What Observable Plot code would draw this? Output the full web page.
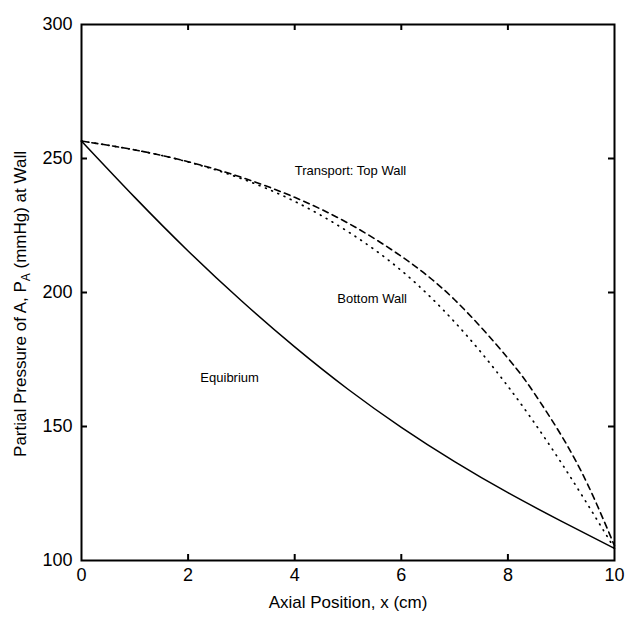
<!DOCTYPE html>
<html>
<head>
<meta charset="utf-8">
<script src="https://cdn.jsdelivr.net/npm/d3@7"></script>
<script src="https://cdn.jsdelivr.net/npm/@observablehq/plot@0.6"></script>
<style>
  html, body { margin: 0; padding: 0; background: #fff; }
  #chart { width: 626px; height: 617px; }
</style>
</head>
<body>
<div id="chart"></div>
<script>
// Axial position (cm)
const xPos = [0, 1, 2, 3, 4, 5, 6, 7, 8, 9, 10];
// Partial pressure of A at wall (mmHg)
const equilibrium = [256.5, 235.5, 215.5, 196.9, 179.7, 163.9, 149.7, 136.9, 125.3, 114.7, 104.5];
const topWallX    = [0, 1, 2, 3, 4, 5, 6, 7, 8, 8.5, 9, 9.5, 10];
const topWall     = [256.5, 253.2, 248.8, 243.0, 235.5, 225.9, 213.5, 197.3, 175.5, 162.25, 146.75, 128.25, 105.5];
const bottomWall  = [256.5, 253.2, 248.7, 242.5, 234.0, 222.7, 208.2, 189.0, 165.0, 136.5, 104.5];

// Tick values
const xTicks = [0, 2, 4, 6, 8, 10];
const yTicks = [100, 150, 200, 250, 300];
const xInnerTicks = [2, 4, 6, 8];
const yInnerTicks = [150, 200, 250];

// Curve annotations
const annLabels = ["Transport: Top Wall", "Bottom Wall", "Equibrium"];
const annX = [4.0, 4.8, 2.23];
const annY = [245.5, 197.8, 168.3];

const xLabel = "Axial Position, x (cm)";

const eqData = xPos.map((x, i) => ({x, y: equilibrium[i]}));
const topData = topWallX.map((x, i) => ({x, y: topWall[i]}));
const botData = xPos.map((x, i) => ({x, y: bottomWall[i]}));
const annData = annLabels.map((t, i) => ({t, x: annX[i], y: annY[i]}));

const W = 626, H = 617, ML = 81, MR = 12, MT = 24, MB = 57;
const fw = W - ML - MR, fh = H - MT - MB, tl = 6;

const chart = Plot.plot({
  width: W,
  height: H,
  marginLeft: ML,
  marginRight: MR,
  marginTop: MT,
  marginBottom: MB,
  style: {fontFamily: "'Liberation Sans', Arial, sans-serif", color: "#000", background: "#fff"},
  x: {domain: [0, 10]},
  y: {domain: [100, 300]},
  marks: [
    Plot.line(eqData, {x: "x", y: "y", curve: "natural", stroke: "#000", strokeWidth: 1.5}),
    Plot.line(topData, {x: "x", y: "y", curve: "natural", stroke: "#000", strokeWidth: 1.6, strokeDasharray: "6,4.5"}),
    Plot.line(botData, {x: "x", y: "y", curve: "natural", stroke: "#000", strokeWidth: 1.7, strokeDasharray: "0.8,6", strokeLinecap: "round"}),
    Plot.tickX(xInnerTicks, {x: d => d, insetTop: fh - tl, stroke: "#000", strokeWidth: 2}),
    Plot.tickX(xInnerTicks, {x: d => d, insetBottom: fh - tl, stroke: "#000", strokeWidth: 2}),
    Plot.tickY(yInnerTicks, {y: d => d, insetRight: fw - tl, stroke: "#000", strokeWidth: 2}),
    Plot.tickY(yInnerTicks, {y: d => d, insetLeft: fw - tl, stroke: "#000", strokeWidth: 2}),
    Plot.frame({stroke: "#000", strokeWidth: 2}),
    Plot.axisX({ticks: xTicks, tickSize: 0, tickPadding: 8, fontSize: 18, label: null}),
    Plot.axisY({ticks: yTicks, tickSize: 0, tickPadding: 9, fontSize: 18, label: null}),
    Plot.text(annData, {x: "x", y: "y", text: "t", textAnchor: "start", fontSize: 13, fill: "#000"}),
    Plot.text([xLabel], {frameAnchor: "bottom", dy: 47, fontSize: 17, fill: "#000"})
  ]
});

document.getElementById("chart").appendChild(chart);

// Y-axis title with subscript
const svg = d3.select(chart.tagName.toLowerCase() === "svg" ? chart : chart.querySelector("svg"));
const yt = svg.append("text")
  .attr("transform", `translate(22, ${MT + fh / 2 + 12}) rotate(-90)`)
  .attr("text-anchor", "middle")
  .attr("dominant-baseline", "middle")
  .attr("font-family", "'Liberation Sans', Arial, sans-serif")
  .attr("font-size", 17)
  .attr("fill", "#000");
yt.append("tspan").text("Partial Pressure of A, P");
yt.append("tspan").attr("font-size", 12).attr("dy", 5).text("A");
yt.append("tspan").attr("dy", -5).text(" (mmHg) at Wall");
</script>
</body>
</html>
